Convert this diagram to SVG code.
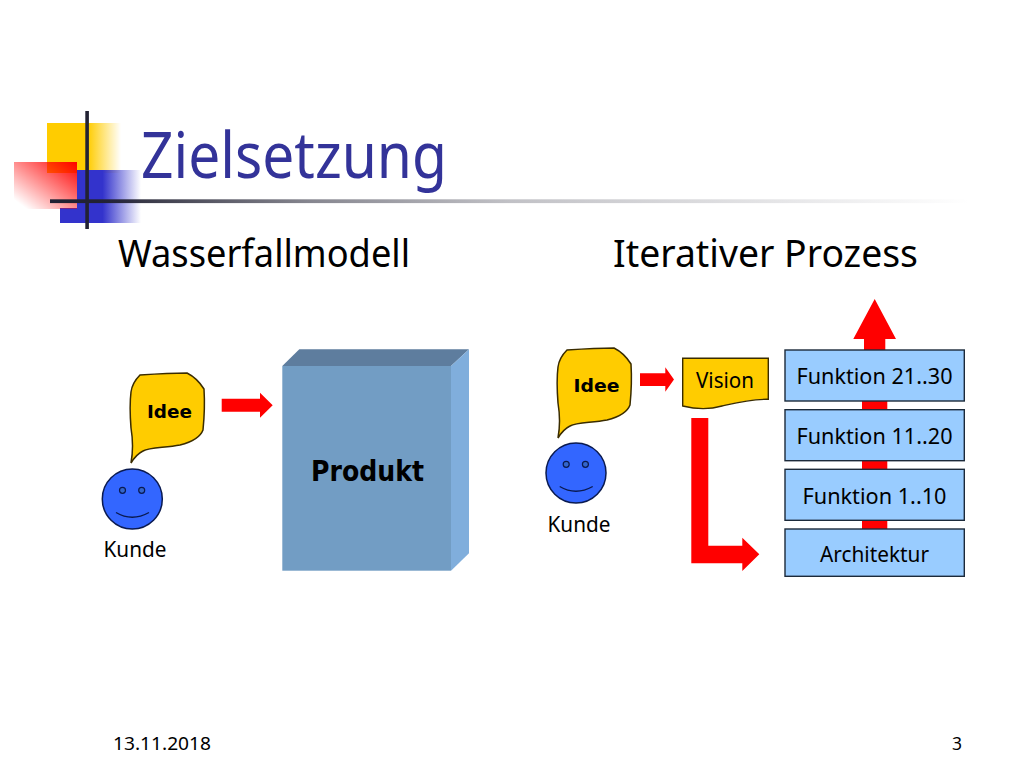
<svg xmlns="http://www.w3.org/2000/svg" width="1024" height="768" viewBox="0 0 1024 768">
<style>
text{font-family:"Noto Sans","DejaVu Sans",sans-serif;fill:#000;text-anchor:middle}
.b{font-family:"DejaVu Sans",sans-serif;font-weight:bold}
.arrow{fill:#ff0000}
.bubble{fill:#ffcc00;stroke:#3a2c00;stroke-width:1.5}
.face{fill:#3366ff;stroke:#0a1a50;stroke-width:1.5}
.eye{fill:#3366cc;stroke:#0a1a50;stroke-width:1.2}
.smile{fill:none;stroke:#0a1a50;stroke-width:1.4}
.box{fill:#99ccff;stroke:#1c2a3a;stroke-width:1.4}
.lbl{font-size:22px}
</style>
<defs>
<linearGradient id="gy" x1="0" x2="1" y1="0" y2="0"><stop offset="0.55" stop-color="#ffcc00"/><stop offset="1" stop-color="#ffcc00" stop-opacity="0"/></linearGradient>
<linearGradient id="gb" x1="0" x2="1" y1="0" y2="0"><stop offset="0.4" stop-color="#3333cc"/><stop offset="1" stop-color="#3333cc" stop-opacity="0"/></linearGradient>
<linearGradient id="gr" x1="1" x2="0" y1="0" y2="1"><stop offset="0" stop-color="#ff0000"/><stop offset="0.9" stop-color="#ff0000" stop-opacity="0"/></linearGradient>
<linearGradient id="gl" x1="0" x2="1" y1="0" y2="0"><stop offset="0.05" stop-color="#222233"/><stop offset="0.28" stop-color="#222233" stop-opacity="0.55"/><stop offset="0.5" stop-color="#222233" stop-opacity="0.28"/><stop offset="1" stop-color="#222233" stop-opacity="0"/></linearGradient>
<path id="bub" d="M131 463 C133 452 133 440 131 428 C130 415 130 400 131 392 C132 384 136 379 140 375 C155 374 175 373 187 373 C193 376 199 381 204 389 C205 405 204 420 203 430 C200 438 192 442 180 445 C165 448 150 447 143 451 C137 454 134 458 131 463 Z"/>
<g id="faceShape">
<circle class="face" cx="132.3" cy="499" r="30"/>
<circle class="eye" cx="122.5" cy="490.3" r="3"/>
<circle class="eye" cx="141.7" cy="490.3" r="3"/>
<path class="smile" d="M116 512.500 Q132 522 149 512.500"/>
</g>
</defs>

<g id="logo">
<rect x="47" y="123" width="74" height="50" fill="url(#gy)"/>
<rect x="77" y="170" width="64" height="53" fill="url(#gb)"/>
<rect x="60" y="208" width="20" height="15" fill="#3333cc"/>
<rect x="14" y="162" width="63" height="47" fill="url(#gr)"/>
<rect x="85.300" y="111" width="3.600" height="118" fill="#222233"/>
</g>
<rect id="rule" x="50" y="199.300" width="920" height="3.800" fill="url(#gl)"/>

<text x="294" y="178" font-size="63" style="fill:#333399" textLength="306" lengthAdjust="spacingAndGlyphs">Zielsetzung</text>
<text x="264" y="267" font-size="38" textLength="292" lengthAdjust="spacingAndGlyphs">Wasserfallmodell</text>
<text x="765.500" y="267" font-size="38" textLength="305" lengthAdjust="spacingAndGlyphs">Iterativer Prozess</text>

<g id="connectors">
<polygon class="arrow" points="221.700,398.700 260,398.700 260,392.700 272.700,405.200 260,417.700 260,411.700 221.700,411.700"/>
<polygon class="arrow" points="640,373.300 665.300,373.300 665.300,367.300 674,379.500 665.300,391.700 665.300,386 640,386"/>
<polygon class="arrow" points="691.300,418 708.300,418 708.300,545.700 742.300,545.700 742.300,537.700 759.300,554.300 742.300,571 742.300,563.300 691.300,563.300"/>
<polygon class="arrow" points="874.700,299 896,339 885.300,339 885.300,400 887.300,400 887.300,530 862,530 862,400 864,400 864,339 853.300,339"/>
</g>

<g id="kunde-left">
<use href="#bub" class="bubble"/>
<use href="#faceShape"/>
<text x="135" y="557" class="lbl" textLength="63" lengthAdjust="spacingAndGlyphs">Kunde</text>
</g>
<g id="idee-left"><text x="169.500" y="418" class="b" font-size="18.500" textLength="45" lengthAdjust="spacingAndGlyphs">Idee</text></g>

<g id="produkt">
<polygon points="282.300,366 299.300,349.300 469,349.300 451,366" fill="#5e7d9e"/>
<polygon points="451,366 469,349.300 469,553.300 451,570.700" fill="#80aedc"/>
<rect x="282.300" y="366" width="168.700" height="204.700" fill="#729dc4"/>
<text x="367.500" y="480.500" class="b" font-size="27.500" textLength="113" lengthAdjust="spacingAndGlyphs">Produkt</text>
</g>

<g id="kunde-right">
<use href="#bub" class="bubble" x="427" y="-25"/>
<use href="#faceShape" x="443.700" y="-26"/>
<text x="579" y="532" class="lbl" textLength="63" lengthAdjust="spacingAndGlyphs">Kunde</text>
</g>
<g id="idee-right"><text x="596.500" y="392" class="b" font-size="18.500" textLength="46" lengthAdjust="spacingAndGlyphs">Idee</text></g>

<g id="vision">
<path d="M682.700 358.300 H768.300 V399.300 C750 399 735 403 722 406 C708 410 695 409 682.700 406 Z" fill="#ffcc00" stroke="#3a2c00" stroke-width="1.400"/>
<text x="725" y="388" class="lbl" textLength="58" lengthAdjust="spacingAndGlyphs">Vision</text>
</g>

<g id="f21"><rect class="box" x="785" y="350" width="179.300" height="51"/><text x="874.500" y="384" class="lbl" textLength="156" lengthAdjust="spacingAndGlyphs">Funktion 21..30</text></g>
<g id="f11"><rect class="box" x="785" y="409.700" width="179.300" height="51"/><text x="874.500" y="444" class="lbl" textLength="156" lengthAdjust="spacingAndGlyphs">Funktion 11..20</text></g>
<g id="f1"><rect class="box" x="785" y="469.300" width="179.300" height="51"/><text x="874.500" y="504" class="lbl" textLength="144" lengthAdjust="spacingAndGlyphs">Funktion 1..10</text></g>
<g id="arch"><rect class="box" x="785" y="529" width="179.300" height="47.300"/><text x="874.500" y="562" class="lbl" textLength="109" lengthAdjust="spacingAndGlyphs">Architektur</text></g>

<text x="162" y="750" font-size="17.500" textLength="98" lengthAdjust="spacingAndGlyphs">13.11.2018</text>
<text x="957" y="750" font-size="17.500">3</text>
</svg>
